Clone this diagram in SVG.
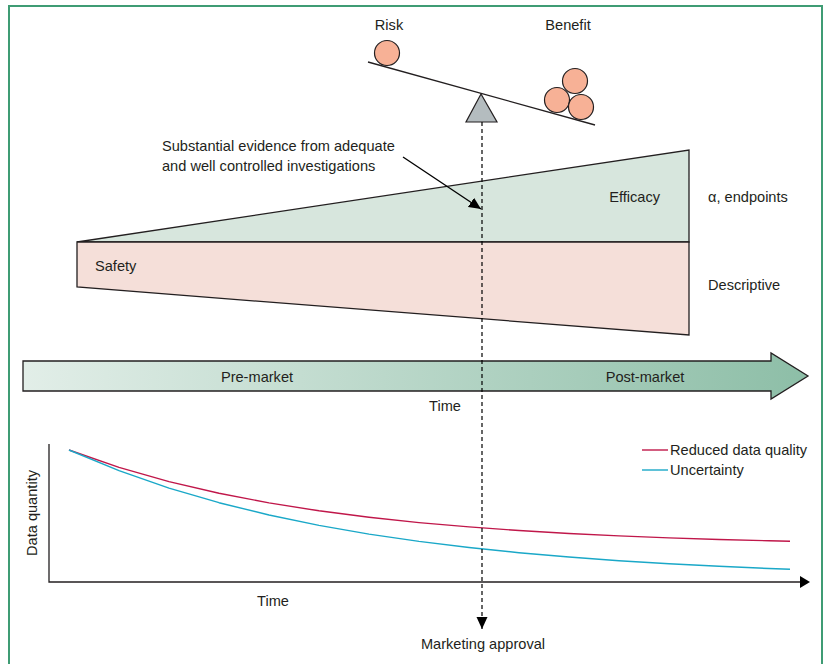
<svg xmlns="http://www.w3.org/2000/svg" width="827" height="664" viewBox="0 0 827 664">
<style>
text{font-family:"Liberation Sans",Arial,sans-serif;font-size:14.6px;fill:#231f20}
.ol{stroke:#231f20;stroke-width:1.3;fill:none}
.ball{fill:#f7b196;stroke:#231f20;stroke-width:1.2}
</style>
<defs>
<linearGradient id="tg" x1="0" y1="0" x2="1" y2="0">
<stop offset="0" stop-color="#e2eee8"/>
<stop offset="1" stop-color="#8dbea7"/>
</linearGradient>
<marker id="ah" markerUnits="userSpaceOnUse" markerWidth="13" markerHeight="12" refX="12" refY="5.5" orient="auto" viewBox="0 0 13 12">
<path d="M0,0 L12,5.5 L0,11 z" fill="#000"/>
</marker>
</defs>
<path d="M9,664 V6 H822 V664" fill="none" stroke="#3f9c74" stroke-width="2"/>

<g id="seesaw">
<line x1="368" y1="62" x2="595" y2="125" class="ol"/>
<polygon points="481,94 466,122 497,122" fill="#b4bcbf" stroke="#231f20" stroke-width="1.2"/>
<circle id="risk-ball" cx="387" cy="53" r="12.5" class="ball"/>
<circle cx="557" cy="100" r="12.5" class="ball"/>
<circle cx="575" cy="81" r="12.5" class="ball"/>
<circle cx="581" cy="107" r="12.5" class="ball"/>
<text x="389" y="30" text-anchor="middle">Risk</text>
<text x="568" y="30" text-anchor="middle">Benefit</text>
</g>

<g id="efficacy">
<polygon points="77,242 689,150 689,242" fill="#d7e6dd" stroke="#231f20" stroke-width="1.3"/>
<text x="660" y="202" text-anchor="end">Efficacy</text>
<text x="708" y="202">α, endpoints</text>
</g>
<g id="safety">
<polygon points="77,242 689,242 689,335 77,287" fill="#f5dfd9" stroke="#231f20" stroke-width="1.3"/>
<text x="95" y="271">Safety</text>
<text x="708" y="290">Descriptive</text>
</g>

<g id="annotation">
<text x="162" y="151">Substantial evidence from adequate</text>
<text x="162" y="171">and well controlled investigations</text>
</g>

<g id="time-arrow">
<polygon points="23,361 771,361 771,353 808,376 771,399 771,391 23,391" fill="url(#tg)" stroke="#231f20" stroke-width="1.3"/>
<text x="257" y="382" text-anchor="middle">Pre-market</text>
<text x="645" y="382" text-anchor="middle">Post-market</text>
<text x="445" y="411" text-anchor="middle">Time</text>
</g>

<g id="chart">
<path d="M49,444 V582 H801" class="ol"/>
<polygon points="800,576 810,582 800,588" fill="#000"/>
<polyline fill="none" stroke="#c0174a" stroke-width="1.4" stroke-linejoin="round" points="69,450 119,467.4 169,481.6 219,493.3 269,502.9 319,510.8 369,517.2 419,522.6 469,526.9 519,530.5 569,533.5 619,535.9 669,537.9 719,539.5 769,540.8 790,541.3"/>
<polyline fill="none" stroke="#1aa8c8" stroke-width="1.4" stroke-linejoin="round" points="69,450 119,470.7 169,488.1 219,502.7 269,515 319,525.4 369,534.1 419,541.4 469,547.5 519,552.7 569,557 619,560.7 669,563.8 719,566.3 769,568.5 790,569.3"/>
<text transform="translate(37,513) rotate(-90)" text-anchor="middle">Data quantity</text>
<text x="273" y="606" text-anchor="middle">Time</text>
<line x1="642" y1="450" x2="668" y2="450" stroke="#c0174a" stroke-width="1.4"/>
<text x="670" y="455">Reduced data quality</text>
<line x1="642" y1="470" x2="668" y2="470" stroke="#1aa8c8" stroke-width="1.4"/>
<text x="670" y="475">Uncertainty</text>
</g>

<g id="approval">
<text x="483" y="649" text-anchor="middle">Marketing approval</text>
</g>

<g id="connectors">
<line x1="482" y1="122" x2="482" y2="629" stroke="#000" stroke-width="1.2" stroke-dasharray="4,3" marker-end="url(#ah)"/>
<line x1="403" y1="157" x2="481" y2="209" stroke="#000" stroke-width="1.3" marker-end="url(#ah)"/>
</g>
</svg>
